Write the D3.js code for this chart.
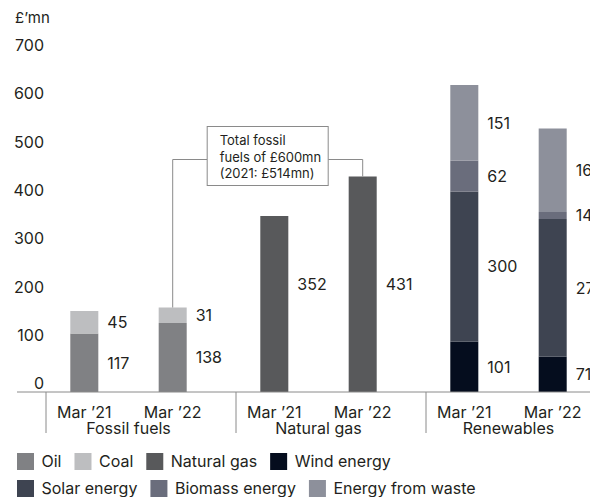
<!DOCTYPE html>
<html>
<head>
<meta charset="utf-8">
<script src="https://cdn.jsdelivr.net/npm/d3@7"></script>
<style>
  body { margin: 0; background: #fff; }
  svg { display: block; font-family: Inter, "Noto Sans", sans-serif; }
</style>
</head>
<body>
<svg id="chart" width="590" height="497"></svg>
<script>
// ---- data (£mn) ----
const groups = ["Fossil fuels", "Natural gas", "Renewables"];
const periods = ["Mar \u201921", "Mar \u201922"];
const oil = [117, 138];
const coal = [45, 31];
const naturalGas = [352, 431];
const wind = [101, 71];
const solar = [300, 275];
const biomass = [62, 14];
const waste = [151, 167];
const yTicks = [0, 100, 200, 300, 400, 500, 600, 700];
const unitLabel = "\u00a3\u2019mn";
const noteLines = ["Total fossil", "fuels of \u00a3600mn", "(2021: \u00a3514mn)"];

const legendKeys = ["Oil", "Coal", "Natural gas", "Wind energy", "Solar energy", "Biomass energy", "Energy from waste"];
const legendRows = [["Oil", "Coal", "Natural gas", "Wind energy"], ["Solar energy", "Biomass energy", "Energy from waste"]];
const colors = ["#808184", "#bdbec0", "#58595b", "#050d1e", "#3e4451", "#6a6d7c", "#8d909b"];
const color = d3.scaleOrdinal().domain(legendKeys).range(colors);

// segments of each stacked bar, bottom to top
const seriesByGroup = {
  "Fossil fuels": [["Oil", oil], ["Coal", coal]],
  "Natural gas": [["Natural gas", naturalGas]],
  "Renewables": [["Wind energy", wind], ["Solar energy", solar], ["Biomass energy", biomass], ["Energy from waste", waste]]
};

const textColor = "#231f20";
const lineColor = "#8a8a8a";

const svg = d3.select("#chart");

// ---- scales ----
const x0 = d3.scaleBand().domain(groups).range([46, 616]);
const x1 = d3.scaleBand().domain(periods).range([24.3, 140.7]).paddingInner(0.683).paddingOuter(0);
const y = d3.scaleLinear().domain([0, 700]).range([392, 42]);
const yLabel = d3.scaleLinear().domain([0, 700]).range([383.5, 45.5]);

const barX = (g, p) => x0(g) + x1(p);
const barCx = (g, p) => barX(g, p) + x1.bandwidth() / 2;

// ---- unit label ----
svg.append("text")
  .attr("x", 15).attr("y", 23)
  .attr("font-size", 15).attr("fill", textColor)
  .text(unitLabel);

// ---- y axis labels ----
const yAxis = svg.append("g")
  .attr("transform", "translate(44,0)")
  .call(d3.axisLeft(yLabel).tickValues(yTicks).tickSize(0).tickPadding(0));
yAxis.select(".domain").remove();
yAxis.selectAll("text")
  .attr("font-family", "Inter, 'Noto Sans', sans-serif")
  .attr("font-size", 16).attr("fill", textColor);

// ---- bars ----
const bars = [];
groups.forEach(g => {
  periods.forEach((p, i) => {
    let acc = 0;
    const segs = seriesByGroup[g].map(([key, arr]) => {
      const s = { group: g, period: p, key, value: arr[i], y0: acc, y1: acc + arr[i] };
      acc += arr[i];
      return s;
    });
    bars.push({ group: g, period: p, total: acc, segs });
  });
});

const segAll = bars.flatMap(b => b.segs);
svg.append("g").selectAll("rect")
  .data(segAll)
  .join("rect")
  .attr("x", d => barX(d.group, d.period))
  .attr("width", x1.bandwidth())
  .attr("y", d => y(d.y1))
  .attr("height", d => y(d.y0) - y(d.y1))
  .attr("fill", d => color(d.key));

// ---- value labels ----
// single-series groups share one label row at the mid-height of the taller bar
const labelMid = d => {
  const series = seriesByGroup[d.group];
  if (series.length === 1) {
    const maxVal = d3.max(series[0][1]);
    return y(maxVal / 2);
  }
  return y((d.y0 + d.y1) / 2);
};
svg.append("g").selectAll("text")
  .data(segAll)
  .join("text")
  .attr("x", d => barX(d.group, d.period) + x1.bandwidth() + 9)
  .attr("y", labelMid)
  .attr("dy", "0.36em")
  .attr("font-size", 16).attr("fill", textColor)
  .text(d => d.value);

// ---- x axis ----
svg.append("line")
  .attr("x1", 17).attr("x2", 590)
  .attr("y1", y(0)).attr("y2", y(0))
  .attr("stroke", lineColor).attr("stroke-width", 1);

svg.append("g").selectAll("line")
  .data(groups)
  .join("line")
  .attr("x1", g => x0(g)).attr("x2", g => x0(g))
  .attr("y1", y(0)).attr("y2", y(0) + 41)
  .attr("stroke", lineColor).attr("stroke-width", 1);

svg.append("g").selectAll("text")
  .data(bars)
  .join("text")
  .attr("x", d => barCx(d.group, d.period))
  .attr("y", y(0) + 20).attr("dy", "0.36em")
  .attr("text-anchor", "middle")
  .attr("font-size", 16).attr("fill", textColor)
  .text(d => d.period);

svg.append("g").selectAll("text")
  .data(groups)
  .join("text")
  .attr("x", g => (barCx(g, periods[0]) + barCx(g, periods[1])) / 2)
  .attr("y", y(0) + 36.5).attr("dy", "0.36em")
  .attr("text-anchor", "middle")
  .attr("font-size", 16).attr("fill", textColor)
  .text(g => g);

// ---- fossil total callout ----
const fossilBar = bars.find(b => b.group === "Fossil fuels" && b.period === periods[1]);
const gasBar = bars.find(b => b.group === "Natural gas" && b.period === periods[1]);
const leftX = barCx(fossilBar.group, fossilBar.period);
const rightX = barCx(gasBar.group, gasBar.period);
const boxW = 121, boxTop = 126.5, boxH = 59, linkY = 159.5;
const boxX = (leftX + rightX) / 2 - boxW / 2;

const callout = svg.append("g");
callout.append("path")
  .attr("d", `M${leftX},${y(fossilBar.total)}V${linkY}H${boxX}`)
  .attr("fill", "none").attr("stroke", lineColor).attr("stroke-width", 1);
callout.append("path")
  .attr("d", `M${boxX + boxW},${linkY}H${rightX}V${y(gasBar.total)}`)
  .attr("fill", "none").attr("stroke", lineColor).attr("stroke-width", 1);
callout.append("rect")
  .attr("x", boxX).attr("y", boxTop)
  .attr("width", boxW).attr("height", boxH)
  .attr("fill", "#fff").attr("stroke", lineColor).attr("stroke-width", 1);
callout.selectAll("text")
  .data(noteLines)
  .join("text")
  .attr("x", boxX + 12.5)
  .attr("y", (d, i) => 140.5 + i * 16.5)
  .attr("dy", "0.36em")
  .attr("font-size", 13).attr("fill", textColor)
  .text(d => d);

// ---- legend ----
const sw = 17;
legendRows.forEach((row, r) => {
  const cy = 461.5 + r * 27;
  let cx = 17;
  row.forEach(key => {
    const item = svg.append("g");
    item.append("rect")
      .attr("x", cx).attr("y", cy - sw / 2)
      .attr("width", sw).attr("height", sw)
      .attr("fill", color(key));
    const t = item.append("text")
      .attr("x", cx + sw + 7.5).attr("y", cy).attr("dy", "0.36em")
      .attr("font-size", 16).attr("fill", textColor)
      .text(key);
    cx += sw + 7.5 + t.node().getComputedTextLength() + 13;
  });
});
</script>
</body>
</html>
